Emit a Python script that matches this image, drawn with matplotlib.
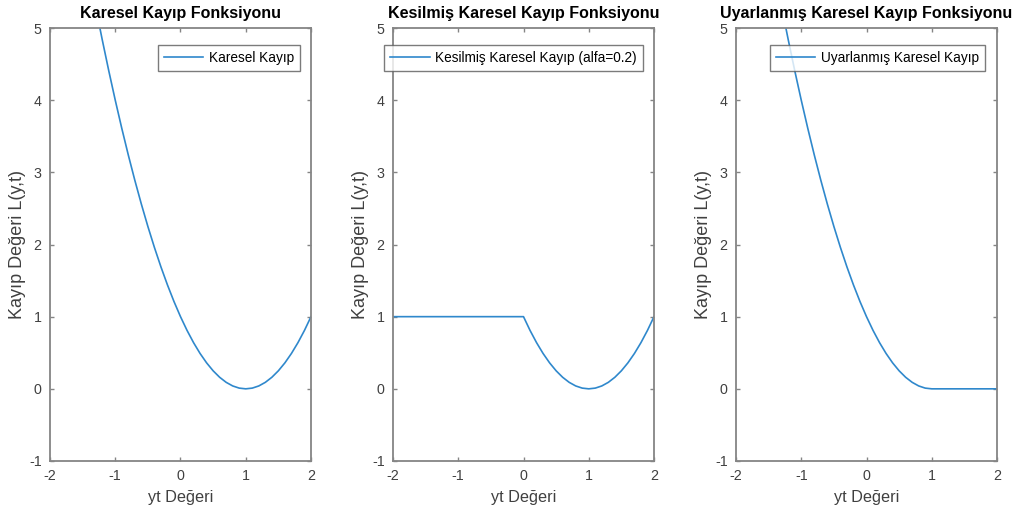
import matplotlib
matplotlib.use("Agg")
import matplotlib.pyplot as plt

plt.rcParams['font.family'] = ['Liberation Sans', 'DejaVu Sans']
plt.rcParams['axes.unicode_minus'] = False

# x values (yt Değeri)
yt = [-2.0, -1.9, -1.8, -1.7, -1.6, -1.5, -1.4, -1.3, -1.2, -1.1,
      -1.0, -0.9, -0.8, -0.7, -0.6, -0.5, -0.4, -0.3, -0.2, -0.1,
      0.0, 0.1, 0.2, 0.3, 0.4, 0.5, 0.6, 0.7, 0.8, 0.9,
      1.0, 1.1, 1.2, 1.3, 1.4, 1.5, 1.6, 1.7, 1.8, 1.9, 2.0]

karesel = [9.00, 8.41, 7.84, 7.29, 6.76, 6.25, 5.76, 5.29, 4.84, 4.41,
           4.00, 3.61, 3.24, 2.89, 2.56, 2.25, 1.96, 1.69, 1.44, 1.21,
           1.00, 0.81, 0.64, 0.49, 0.36, 0.25, 0.16, 0.09, 0.04, 0.01,
           0.00, 0.01, 0.04, 0.09, 0.16, 0.25, 0.36, 0.49, 0.64, 0.81, 1.00]

kesilmis = [1.00, 1.00, 1.00, 1.00, 1.00, 1.00, 1.00, 1.00, 1.00, 1.00,
            1.00, 1.00, 1.00, 1.00, 1.00, 1.00, 1.00, 1.00, 1.00, 1.00,
            1.00, 0.81, 0.64, 0.49, 0.36, 0.25, 0.16, 0.09, 0.04, 0.01,
            0.00, 0.01, 0.04, 0.09, 0.16, 0.25, 0.36, 0.49, 0.64, 0.81, 1.00]

uyarlanmis = [9.00, 8.41, 7.84, 7.29, 6.76, 6.25, 5.76, 5.29, 4.84, 4.41,
              4.00, 3.61, 3.24, 2.89, 2.56, 2.25, 1.96, 1.69, 1.44, 1.21,
              1.00, 0.81, 0.64, 0.49, 0.36, 0.25, 0.16, 0.09, 0.04, 0.01,
              0.00, 0.00, 0.00, 0.00, 0.00, 0.00, 0.00, 0.00, 0.00, 0.00, 0.00]

series = [karesel, kesilmis, uyarlanmis]
titles = ["Karesel Kayıp Fonksiyonu",
          "Kesilmiş Karesel Kayıp Fonksiyonu",
          "Uyarlanmış Karesel Kayıp Fonksiyonu"]
legends = ["Karesel Kayıp",
           "Kesilmiş Karesel Kayıp (alfa=0.2)",
           "Uyarlanmış Karesel Kayıp"]
xticks = [-2, -1, 0, 1, 2]
yticks = [-1, 0, 1, 2, 3, 4, 5]

W, H = 1015, 517
fig = plt.figure(figsize=(W / 100, H / 100), dpi=100)
lefts = [50, 393, 736]
axw = 261
top_px, bot_px = 28, 461
leg_right = [0.958, 0.958, 0.954]
line_color = "#2f88cc"
spine_color = "#858585"
label_color = "#404040"
legend_edge = "#5a5a5a"

for i in range(3):
    ax = fig.add_axes([lefts[i] / W, 1 - bot_px / H, axw / W, (bot_px - top_px) / H])
    ax.plot(yt, series[i], color=line_color, linewidth=1.2, label=legends[i])
    ax.set_xlim(-2, 2)
    ax.set_ylim(-1, 5)
    ax.set_xticks(xticks)
    ax.set_yticks(yticks)
    ax.tick_params(direction='in', top=True, right=True, length=3,
                   width=1.0, color=spine_color, labelsize=10.3,
                   labelcolor=label_color, pad=6)
    for s in ax.spines.values():
        s.set_color(spine_color)
        s.set_linewidth(1.3)
    ax.set_title(titles[i], fontsize=11.5, fontweight='bold', pad=7, color='black')
    ax.set_xlabel("yt Değeri", fontsize=11.7, color=label_color, labelpad=5)
    ax.set_ylabel("Kayıp Değeri L(y,t)", fontsize=13, color=label_color, labelpad=2)
    leg = ax.legend(loc='upper right', fontsize=9.8, frameon=True, fancybox=False,
                    edgecolor=legend_edge, borderpad=0.45, handlelength=2.9,
                    handletextpad=0.4, borderaxespad=0,
                    bbox_to_anchor=(leg_right[i], 0.961))
    leg.get_frame().set_linewidth(1.0)

fig.savefig("out.png", dpi=100, facecolor='white')
